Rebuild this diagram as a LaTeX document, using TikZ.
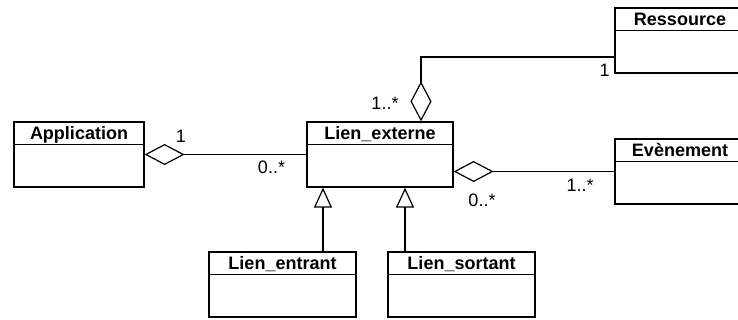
\documentclass[tikz,border=0pt]{standalone}
\usepackage{fontspec}
\setmainfont{Liberation Sans}
\usetikzlibrary{arrows.meta}
\tikzstyle{classbox} = [
    rectangle,
    draw=black,
    line width=1.2pt,
    inner sep=0pt
]
\tikzstyle{classtitle} = [
    anchor=north,
    inner sep=0pt,
    minimum height=23pt,
    text height=15.5pt,
    text depth=2pt,
    font=\fontsize{18}{21}\selectfont\bfseries
]
\tikzstyle{mult} = [
    anchor=base,
    inner sep=0pt,
    font=\fontsize{18}{21}\selectfont
]
\tikzstyle{aggr} = [line width=1.2pt, {Diamond[open, length=40pt, width=21pt]}-]
\tikzstyle{inherit} = [line width=1.2pt, -{Triangle[open, length=20pt, width=18pt]}]

% class box with a title compartment
\newcommand{\umlclass}[5]{%
\node (#1) [classbox, minimum width=#3, minimum height=65pt] at (#2) {};
\node (#1-title) [classtitle, minimum width=#3] at (#1.north) {#4};
\draw [line width=1.2pt] (#1-title.south west) -- (#1-title.south east);
}

\begin{document}
\begin{tikzpicture}[x=1pt, y=-1pt]
\useasboundingbox (0,0) rectangle (738,320);
\clip (0,0) rectangle (738,320);

\umlclass{app}{79,154.5}{130pt}{Application}{}
\umlclass{lien}{380,154.5}{146pt}{Lien\_externe}{}
\umlclass{ressource}{680,40.5}{130pt}{Ressource}{}
\umlclass{evenement}{680,171.5}{130pt}{Evènement}{}
\umlclass{entrant}{282.5,284.5}{147pt}{Lien\_entrant}{}
\umlclass{sortant}{461.5,284.5}{147pt}{Lien\_sortant}{}

% Connectors
\coordinate (resin) at ([yshift=-16.5pt]ressource.west);
\draw [aggr] (app.east) -- (lien.west);
\draw [aggr] ([xshift=41pt]lien.north) |- (resin);
\draw [aggr] ([yshift=-17pt]lien.east) -- ([yshift=-17pt]lien.east -| evenement.west);
\draw [inherit] ([xshift=40.5pt]entrant.north) -- ([xshift=40.5pt]entrant.north |- lien.south);
\draw [inherit] ([xshift=-56.5pt]sortant.north) -- ([xshift=-56.5pt]sortant.north |- lien.south);

% Multiplicities
\node (m1) [mult] at (181,143) {1};
\node (m2) [mult] at (271.5,174) {0..*};
\node (m3) [mult] at (385,110) {1..*};
\node (m4) [mult] at (604.5,77) {1};
\node (m5) [mult] at (580,192) {1..*};
\node (m6) [mult] at (482,207) {0..*};

\end{tikzpicture}
\end{document}
